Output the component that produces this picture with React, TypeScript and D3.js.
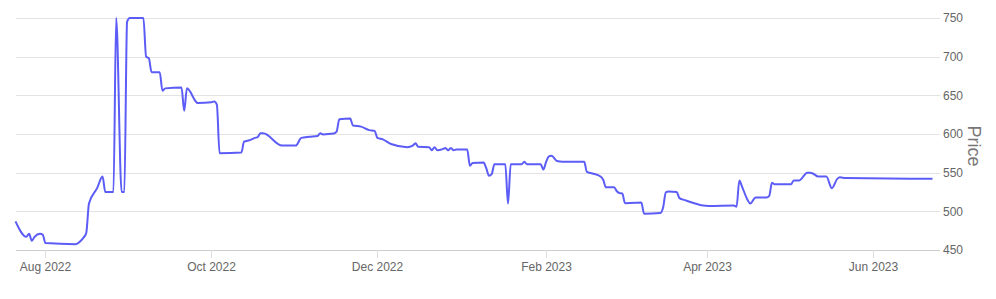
import React from "react";
import * as d3 from "d3";

const dates: string[] = [
  "2022-07-21","2022-07-25","2022-07-26","2022-07-27","2022-07-28","2022-07-30","2022-07-31","2022-08-01",
  "2022-08-12","2022-08-14","2022-08-15","2022-08-16","2022-08-17","2022-08-20","2022-08-22","2022-08-23",
  "2022-08-26","2022-08-27","2022-08-29","2022-08-30","2022-08-31","2022-09-01","2022-09-06","2022-09-07",
  "2022-09-08","2022-09-09","2022-09-12","2022-09-13","2022-09-14","2022-09-20","2022-09-21","2022-09-22",
  "2022-09-26","2022-10-01","2022-10-02","2022-10-03","2022-10-04","2022-10-12","2022-10-13","2022-10-15",
  "2022-10-17","2022-10-18","2022-10-19","2022-10-20","2022-10-27","2022-11-01","2022-11-03","2022-11-06",
  "2022-11-09","2022-11-10","2022-11-11","2022-11-15","2022-11-16","2022-11-17","2022-11-21","2022-11-22",
  "2022-11-25","2022-11-28","2022-11-30","2022-12-01","2022-12-03","2022-12-06","2022-12-12","2022-12-14",
  "2022-12-15","2022-12-16","2022-12-20","2022-12-21","2022-12-22","2022-12-23","2022-12-25","2022-12-26",
  "2022-12-27","2022-12-28","2022-12-29","2022-12-30","2023-01-03","2023-01-04","2023-01-05","2023-01-09",
  "2023-01-10","2023-01-11","2023-01-12","2023-01-13","2023-01-17","2023-01-18","2023-01-19","2023-01-23",
  "2023-01-24","2023-01-25","2023-01-30","2023-01-31","2023-02-01","2023-02-02","2023-02-03","2023-02-05",
  "2023-02-07","2023-02-15","2023-02-16","2023-02-18","2023-02-21","2023-02-22","2023-02-23","2023-02-26",
  "2023-02-27","2023-02-28","2023-03-01","2023-03-02","2023-03-06","2023-03-08","2023-03-09","2023-03-15",
  "2023-03-16","2023-03-17","2023-03-18","2023-03-21","2023-03-22","2023-03-24","2023-03-26","2023-03-30",
  "2023-04-02","2023-04-11","2023-04-12","2023-04-13","2023-04-14","2023-04-16","2023-04-17","2023-04-19",
  "2023-04-23","2023-04-24","2023-04-25","2023-04-26","2023-05-02","2023-05-03","2023-05-05","2023-05-08",
  "2023-05-09","2023-05-10","2023-05-12","2023-05-15","2023-05-17","2023-05-19","2023-05-20","2023-05-22",
  "2023-06-23",
];

const prices: number[] = [
  487, 467, 471, 462, 467, 471, 470, 459,
  457.5, 462, 466, 472, 510, 530, 545, 525,
  525, 750, 525, 525, 745, 750, 750, 700,
  698, 680, 680, 656, 659, 660, 630, 659,
  640, 641, 642, 638, 575, 576, 590, 592,
  595, 596, 601, 601, 585, 585, 595, 596.5,
  597.5, 601, 599.5, 600.5, 603, 619, 620, 611,
  609.5, 605, 604, 595, 593, 587, 583, 585,
  588, 583.5, 583, 579, 583, 579, 580.5, 582,
  579, 582, 579, 580, 580, 559, 562.5, 563,
  556, 546, 548, 561, 561, 510, 561, 561,
  564, 561, 561, 554, 564, 571, 572, 565,
  564, 564, 551, 549, 545, 540.5, 531, 531,
  526, 523.5, 523, 510.5, 511, 511.5, 497, 498,
  505, 524.5, 525.5, 525, 517, 514.5, 512, 508,
  507, 507.5, 506, 540, 532, 515, 510, 518,
  518, 520, 537, 535, 535, 540, 540, 550,
  550, 549, 545, 545, 530, 542, 544, 543,
  542,
];

const xTickDates: string[] = ["2022-08-01", "2022-10-01", "2022-12-01", "2023-02-01", "2023-04-01", "2023-06-01"];
const yTicks: number[] = [450, 500, 550, 600, 650, 700, 750];
const yLabel = "Price";

const W = 996;
const H = 299;
const FONT = "'Liberation Sans', Arial, sans-serif";

export default function App() {
  const parse = d3.utcParse("%Y-%m-%d");
  const data = dates.map((d, i) => ({ date: parse(d) as Date, value: prices[i] }));
  const x = d3
    .scaleUtc()
    .domain(d3.extent(data, (d) => d.date) as [Date, Date])
    .range([15.5, 932.5]);
  const y = d3.scaleLinear().domain([450, 750]).range([250, 18]);
  const fmt = d3.utcFormat("%b %Y");
  const line = d3
    .line<{ date: Date; value: number }>()
    .x((d) => x(d.date))
    .y((d) => y(d.value))
    .curve(d3.curveMonotoneX);

  const gridLeft = 16;
  const gridRight = 940;

  return (
    <svg
      width={W}
      height={H}
      style={{ position: "absolute", left: 0, top: 0, background: "#fff" }}
      fontFamily={FONT}
    >
      {yTicks.map((t) => (
        <g key={t}>
          <line
            x1={gridLeft}
            x2={gridRight}
            y1={Math.round(y(t)) + 0.5}
            y2={Math.round(y(t)) + 0.5}
            stroke={t === 450 ? "#cccccc" : "#e3e3e3"}
            strokeWidth={1}
          />
          <text x={943} y={y(t)} dy="0.35em" fontSize={12} fill="#666">
            {t}
          </text>
        </g>
      ))}
      {xTickDates.map((s) => {
        const dt = parse(s) as Date;
        const xx = Math.round(x(dt)) + 0.5;
        return (
          <g key={s}>
            <line x1={xx} x2={xx} y1={250} y2={258} stroke="#dddddd" strokeWidth={1} />
            <text x={xx} y={271} textAnchor="middle" fontSize={12} fill="#666">
              {fmt(dt)}
            </text>
          </g>
        );
      })}
      <path d={line(data) || ""} fill="none" stroke="#5c5cf6" strokeWidth={2} strokeLinejoin="round" />
      <text
        transform={`translate(974, 146) rotate(90)`}
        textAnchor="middle"
        dy="0.35em"
        fontSize={18}
        fill="#777"
      >
        {yLabel}
      </text>
    </svg>
  );
}
